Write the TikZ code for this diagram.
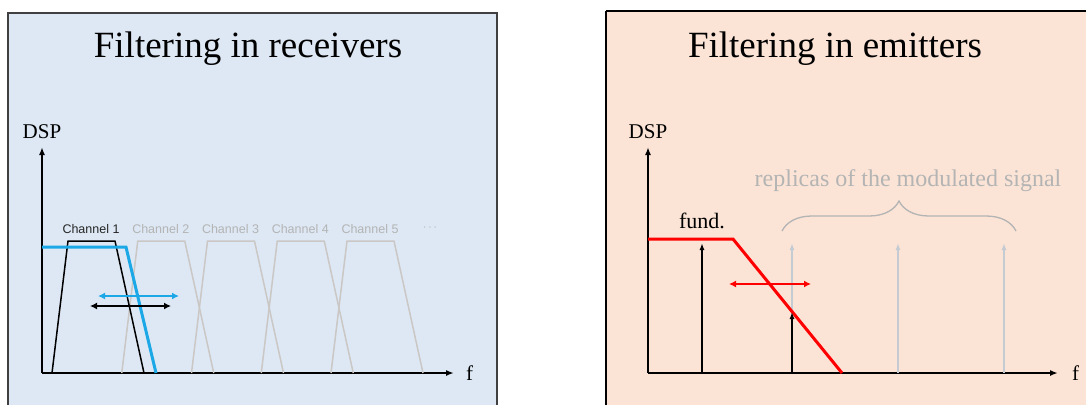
\documentclass[tikz,border=0pt]{standalone}
\usepackage{fontspec}
\setmainfont{Liberation Serif}
\newfontfamily\chanfont{Liberation Sans}
\usetikzlibrary{arrows.meta, positioning, decorations.pathreplacing}

\definecolor{rxback}{RGB}{221,232,244}
\definecolor{txback}{RGB}{251,228,214}
\definecolor{chgray}{RGB}{202,199,197}
\definecolor{labelgray}{RGB}{180,180,180}
\definecolor{filterblue}{RGB}{28,168,230}
\definecolor{replicagray}{RGB}{197,203,210}

\begin{document}
\begin{tikzpicture}[
        x=1bp, y=-1bp,
        panel/.style={line width=1.5bp},
        title/.style={font=\fontsize{37bp}{40bp}\selectfont, anchor=base, inner sep=0pt},
        axis/.style={-{Latex[length=8bp, width=6bp]}, line width=1.6bp},
        axis-label/.style={font=\fontsize{21bp}{24bp}\selectfont, inner sep=1bp},
        channel/.style={line width=1.5bp, line join=round},
        channel-label/.style={font=\chanfont\fontsize{12.5bp}{14bp}\selectfont, inner sep=1bp},
        filter/.style={line width=3bp},
        sweep/.style={{Latex[length=7bp, width=7bp]}-{Latex[length=7bp, width=7bp]}, line width=1.5bp},
        tone/.style={-{Latex[length=7bp, width=5bp]}, line width=1.6bp},
        note/.style={font=\fontsize{24bp}{26bp}\selectfont, inner sep=1bp},
    ]
        \useasboundingbox (0,0) rectangle (1086,405);

        % Panels
        \fill[rxback] (8,13) rectangle (497,405);
        \draw[panel, black!75] (8,405) -- (8,13) -- (497,13) -- (497,405);
        \fill[txback] (606,11) rectangle (1086,405);
        \draw[panel] (606,405) -- (606,11);
        \draw[line width=2.2bp] (606,11) -- (1086,11);

        % Titles
        \node[title] (rx-title) at (248,57) {Filtering in receivers};
        \node[title] (tx-title) at (835,57) {Filtering in emitters};

        % Receiver axes
        \coordinate (rx-O) at (42,373);
        \coordinate (rx-Y) at (42,147);
        \coordinate (rx-X) at (454,373);
        \draw[axis] (rx-O) -- (rx-Y);
        \draw[axis] (rx-O) -- (rx-X);
        \node[axis-label, above=7bp of rx-Y] (rx-dsp) {DSP};
        \node[axis-label, right=11bp of rx-X] (rx-f) {f};

        % Channels
        \foreach \k/\col/\lab in {2/chgray/labelgray, 3/chgray/labelgray, 4/chgray/labelgray,
                                  5/chgray/labelgray, 1/black/black!85} {
            \pgfmathsetmacro{\x}{52+69.75*(\k-1)}
            \coordinate (ch\k-a) at (\x,373);
            \coordinate (ch\k-b) at (\x+16,241);
            \coordinate (ch\k-c) at (\x+63,241);
            \coordinate (ch\k-d) at (\x+92,373);
            \draw[channel, \col] (ch\k-a) -- (ch\k-b) -- (ch\k-c) -- (ch\k-d);
            \node[channel-label, text=\lab] (ch\k-label) at (\x+39,229) {Channel \k};
        }
        \node[channel-label, text=labelgray] (ch-more) at (430,228) {$\cdots$};

        % Receiver filter
        \coordinate (rx-f0) at (42,247);
        \coordinate (rx-f1) at (126,247);
        \coordinate (rx-f2) at (156,373);
        \draw[filter, filterblue] (rx-f0) -- (rx-f1) -- (rx-f2);

        % Tuning arrows
        \coordinate (rx-s1) at (98,296);
        \coordinate (rx-s2) at (179,296);
        \coordinate (rx-s3) at (90,306);
        \coordinate (rx-s4) at (171,306);
        \draw[sweep, filterblue] (rx-s1) -- (rx-s2);
        \draw[sweep] (rx-s3) -- (rx-s4);

        % Emitter axes
        \coordinate (tx-O) at (648,373);
        \coordinate (tx-Y) at (648,147);
        \coordinate (tx-X) at (1058,373);
        \draw[axis] (tx-O) -- (tx-Y);
        \draw[axis] (tx-O) -- (tx-X);
        \node[axis-label, above=7bp of tx-Y] (tx-dsp) {DSP};
        \node[axis-label, right=13bp of tx-X] (tx-f) {f};

        % Replicas
        \foreach \r/\x in {1/792, 2/898, 3/1004} {
            \coordinate (rep\r-a) at (\x,373);
            \coordinate (rep\r-b) at (\x,243);
            \draw[tone, replicagray] (rep\r-a) -- (rep\r-b);
        }
        \coordinate (br-a) at (782,231);
        \coordinate (br-b) at (1016,231);
        \draw[line width=1.3bp, labelgray, decorate,
              decoration={brace, amplitude=30bp}] (br-a) -- (br-b);
        \node[note, text=labelgray] (rep-label) at (908,181) {replicas of the modulated signal};

        % Fundamental
        \coordinate (fund-a) at (702,373);
        \coordinate (fund-b) at (702,243);
        \draw[tone] (fund-a) -- (fund-b);
        \node[note, font=\fontsize{22bp}{24bp}\selectfont, above=13bp of fund-b] (fund-label) {fund.};

        % Emitter filter
        \coordinate (tx-f0) at (648,239);
        \coordinate (tx-f1) at (733,239);
        \coordinate (tx-f2) at (842,373);
        \draw[filter, red] (tx-f0) -- (tx-f1) -- (tx-f2);

        \coordinate (low-a) at (792,373);
        \coordinate (low-b) at (792,312);
        \draw[tone] (low-a) -- (low-b);

        \coordinate (tx-s1) at (729,284);
        \coordinate (tx-s2) at (811,284);
        \draw[sweep, red] (tx-s1) -- (tx-s2);
\end{tikzpicture}
\end{document}
